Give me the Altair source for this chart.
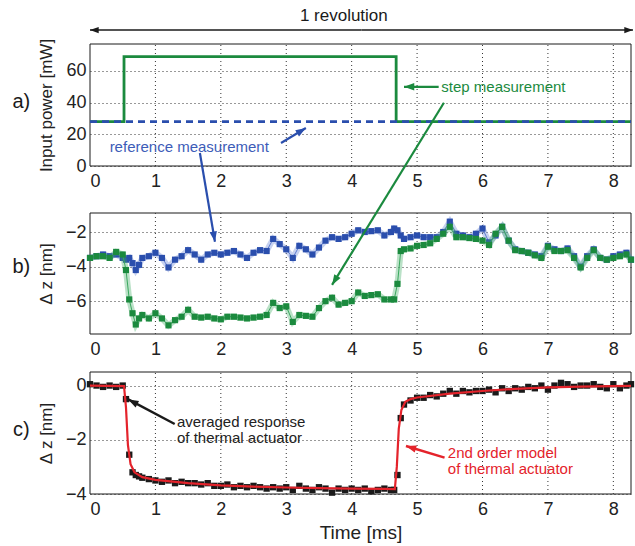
import math
import altair as alt
import pandas as pd

# ---------------- layout constants ----------------
XMAX = 8.27
W, H = 541, 450
A_DOM, A_RNG = [0, 77], [122, 0]
B_DOM, B_RNG = [-7.9, -0.9], [290, 169]
C_DOM, C_RNG = [-4, 0.5], [450, 328]

GREEN = "#1b8a3e"
GREEN_L = "#3aa85e"
BLUE = "#2a4ead"
BLUE_L = "#5d7bd0"
RED = "#e4232b"
BLACK = "#1a1a1a"
GRID = "#333333"

# ---------------- data ----------------
# a) input power
POWER_T = [0, 0.52, 0.52, 4.68, 4.68, 8.27]
POWER_STEP = [28, 28, 69, 69, 28, 28]
REF_T = [0, 8.27]
REF_POWER = [28, 28]

# b) measured displacement
T_B = [0.0, 0.1, 0.2, 0.3, 0.4, 0.5, 0.55, 0.6, 0.65, 0.7, 0.75, 0.8, 0.9, 1.0,
       1.1, 1.2, 1.3, 1.4, 1.5, 1.6, 1.7, 1.8, 1.9, 2.0, 2.1, 2.2, 2.3, 2.4, 2.5,
       2.6, 2.7, 2.8, 2.9, 3.0, 3.1, 3.2, 3.3, 3.4, 3.5, 3.6, 3.7, 3.8, 3.9, 4.0,
       4.1, 4.2, 4.3, 4.4, 4.5, 4.6, 4.65, 4.7, 4.75, 4.8, 4.9, 5.0, 5.1, 5.2,
       5.3, 5.4, 5.5, 5.6, 5.7, 5.8, 5.9, 6.0, 6.1, 6.2, 6.3, 6.4, 6.5, 6.6,
       6.7, 6.8, 6.9, 7.0, 7.1, 7.2, 7.3, 7.4, 7.5, 7.6, 7.7, 7.8, 7.9, 8.0,
       8.1, 8.2, 8.27]
REF_DZ = [-3.5, -3.4, -3.3, -3.4, -3.3, -3.5, -3.6, -3.5, -3.8, -4.2, -3.9, -3.5,
          -3.4, -3.2, -3.5, -4.05, -3.6, -3.4, -3.05, -3.3, -3.6, -3.3, -3.2,
          -3.3, -3.2, -3.1, -3.3, -3.5, -3.2, -3.05, -3.1, -2.4, -2.7, -3.0,
          -3.5, -2.8, -3.0, -3.3, -2.9, -2.5, -2.3, -2.4, -2.3, -2.1, -1.9,
          -2.0, -1.95, -1.9, -2.2, -2.0, -1.8, -1.9, -2.2, -2.4, -2.3, -2.2,
          -2.3, -2.3, -2.3, -2.0, -1.4, -2.1, -2.2, -2.3, -2.1, -1.8, -2.6,
          -2.2, -1.7, -2.5, -3.0, -3.1, -3.2, -3.3, -3.4, -2.8, -3.0, -3.1,
          -2.95, -3.4, -4.0, -3.4, -3.0, -3.5, -3.6, -3.4, -3.3, -3.2, -3.6]
STEP_DZ = [-3.5, -3.4, -3.4, -3.5, -3.15, -3.3, -4.2, -5.9, -6.7, -7.35, -7.0,
           -6.8, -7.0, -6.7, -7.0, -7.4, -7.1, -6.9, -6.5, -6.9, -6.95, -6.9,
           -7.0, -7.05, -6.9, -6.9, -6.95, -7.0, -6.95, -6.9, -6.8, -6.1, -6.4,
           -6.3, -7.2, -6.8, -6.85, -6.9, -6.4, -6.0, -5.8, -6.2, -6.1, -6.0,
           -5.5, -5.7, -5.65, -5.6, -5.9, -5.9, -5.9, -5.0, -3.1, -3.0, -2.95,
           -2.8, -2.75, -2.65, -2.4, -2.1, -1.7, -2.3, -2.3, -2.35, -2.4, -2.5,
           -2.75, -2.1, -1.7, -2.5, -3.05, -3.1, -3.2, -3.35, -3.5, -2.85, -3.1,
           -3.1, -3.05, -3.5, -4.05, -3.5, -3.05, -3.5, -3.6, -3.5, -3.4, -3.3,
           -3.6]

# c) averaged response and model
AVG_DZ = [0.05, 0.0, -0.05, 0.0, -0.05, 0.0, -0.5, -2.55, -3.2, -3.3, -3.35,
          -3.4, -3.45, -3.5, -3.55, -3.5, -3.6, -3.55, -3.6, -3.6, -3.65, -3.6,
          -3.7, -3.7, -3.65, -3.75, -3.7, -3.75, -3.7, -3.75, -3.8, -3.75, -3.8,
          -3.75, -3.85, -3.7, -3.8, -3.85, -3.75, -3.8, -3.95, -3.8, -3.85,
          -3.8, -3.85, -3.8, -3.9, -3.85, -3.8, -3.85, -3.85, -3.3, -1.2, -0.7,
          -0.55, -0.45, -0.45, -0.35, -0.4, -0.3, -0.2, -0.3, -0.2, -0.25,
          -0.2, -0.2, -0.15, -0.25, -0.1, -0.2, -0.1, -0.15, -0.05, -0.1, 0.0,
          -0.15, 0.0, 0.1, 0.05, -0.05, 0.0, 0.0, 0.05, -0.05, -0.1, 0.05,
          -0.1, 0.0, 0.05]
MODEL_T = [0, 0.52, 0.55, 0.58, 0.62, 0.68, 0.8, 1.0, 1.5, 2.0, 2.5, 3.0, 3.5,
           4.0, 4.5, 4.66, 4.69, 4.72, 4.76, 4.82, 4.9, 5.0, 5.5, 6.0, 6.5,
           7.0, 7.5, 8.0, 8.27]
MODEL_DZ = [0.0, -0.02, -0.8, -2.2, -2.9, -3.2, -3.38, -3.48, -3.6, -3.68,
            -3.73, -3.76, -3.78, -3.8, -3.81, -3.82, -3.0, -1.6, -0.9, -0.6,
            -0.5, -0.44, -0.3, -0.2, -0.12, -0.07, -0.04, -0.02, -0.01]

XTICKS = [0, 1, 2, 3, 4, 5, 6, 7, 8]
GRID_X = [1, 2, 3, 4, 5, 6, 7, 8]

# ---------------- helpers ----------------
KX = W / XMAX


def kyf(dom, rng):
    return (rng[0] - rng[1]) / (dom[1] - dom[0])


def angle(x0, y0, x1, y1, ky):
    dx = (x1 - x0) * KX
    dy = -(y1 - y0) * ky
    return math.degrees(math.atan2(dx, -dy)) % 360


HEAD = "M0,0 L-0.36,1 L0.36,1 Z"


def x_axis(offset, title=None):
    kw = dict(orient="bottom", values=XTICKS, format="d", grid=False,
              ticks=False, domain=False, labelFontSize=18, labelPadding=6,
              labelColor="#222", offset=offset)
    if title:
        kw.update(title=title, titleFontSize=19, titleFontWeight="normal",
                  titlePadding=5, titleColor="#222")
    else:
        kw.update(title=None)
    return alt.Axis(**kw)


def y_axis(values, title):
    return alt.Axis(orient="left", values=values, format="d", title=title,
                    grid=True, gridDash=[1, 3], gridColor=GRID, gridWidth=1,
                    ticks=False, domain=False, labelFontSize=18,
                    labelPadding=4, labelColor="#222", titleFontSize=17,
                    titleFontWeight="normal", titlePadding=10,
                    titleColor="#222")


def make_panel(dom, rng, xax, yax):
    xs = alt.Scale(domain=[0, XMAX], nice=False, zero=False)
    ys = alt.Scale(domain=dom, range=rng, nice=False, zero=False)

    def X(f="x"):
        return alt.X(f"{f}:Q", scale=xs, axis=xax)

    def Y(f="y"):
        return alt.Y(f"{f}:Q", scale=ys, axis=yax)
    return X, Y


def frame(X, Y, dom):
    d = pd.DataFrame({"x": [0], "x2": [XMAX], "y": [dom[0]], "y2": [dom[1]]})
    return alt.Chart(d).mark_rect(fillOpacity=0, stroke=BLACK,
                                  strokeWidth=1).encode(
        x=X(), x2="x2:Q", y=Y(), y2="y2:Q")


def xgrid(X, Y, dom):
    d = pd.DataFrame({"x": GRID_X, "y": [dom[0]] * len(GRID_X),
                      "y2": [dom[1]] * len(GRID_X)})
    return alt.Chart(d).mark_rule(strokeDash=[1, 3], color=GRID,
                                  strokeWidth=1).encode(
        x=X(), y=Y(), y2="y2:Q")


def arrow(X, Y, x0, y0, x1, y1, ky, color, width=2.2, size=420):
    shaft = alt.Chart(pd.DataFrame({"x": [x0, x1], "y": [y0, y1]})).mark_line(
        color=color, strokeWidth=width).encode(x=X(), y=Y())
    head = alt.Chart(pd.DataFrame({"x": [x1], "y": [y1],
                                   "a": [angle(x0, y0, x1, y1, ky)]})).mark_point(
        shape=HEAD, filled=True, opacity=1, color=color, size=size,
        strokeWidth=0).encode(x=X(), y=Y(), angle=alt.Angle("a:Q", scale=None))
    return [shaft, head]


def text(X, Y, rows, color, size=15, align="left"):
    d = pd.DataFrame(rows, columns=["x", "y", "t"])
    return alt.Chart(d).mark_text(align=align, baseline="middle",
                                  fontSize=size, color=color).encode(
        x=X(), y=Y(), text="t:N")


# ---------------- panel a ----------------
KA = kyf(A_DOM, A_RNG)
XA, YA = make_panel(A_DOM, A_RNG, x_axis(A_RNG[0] - H),
                    y_axis([0, 20, 40, 60], "Input power [mW]"))
step_df = pd.DataFrame({"x": POWER_T, "y": POWER_STEP,
                        "i": list(range(len(POWER_T)))})
ref_df = pd.DataFrame({"x": REF_T, "y": REF_POWER})
layers_a = [
    frame(XA, YA, A_DOM),
    xgrid(XA, YA, A_DOM),
    alt.Chart(step_df).mark_line(color=GREEN, strokeWidth=2.8).encode(
        x=XA(), y=YA(), order="i:Q"),
    alt.Chart(ref_df).mark_line(color=BLUE, strokeWidth=2.8,
                                strokeDash=[7, 5]).encode(x=XA(), y=YA()),
    text(XA, YA, [[5.37, 50, "step measurement"]], GREEN),
    text(XA, YA, [[0.3, 12, "reference measurement"]], "#3d5cb8"),
    text(XA, YA, [[3.88, 94.5, "1 revolution"]], BLACK, size=17,
         align="center"),
    text(XA, YA, [[-1.05, 40.5, "a)"]], BLACK, size=20, align="center"),
]
layers_a += arrow(XA, YA, 5.33, 50, 4.8, 50, KA, GREEN)
layers_a += arrow(XA, YA, 2.92, 14.5, 3.3, 24, KA, BLUE)
layers_a += arrow(XA, YA, 4.15, 85.8, 0.0, 85.8, KA, BLACK, width=1.6, size=300)
layers_a += arrow(XA, YA, 4.15, 85.8, 8.3, 85.8, KA, BLACK, width=1.6, size=300)
panel_a = alt.layer(*layers_a)

# ---------------- panel b ----------------
KB = kyf(B_DOM, B_RNG)
XB, YB = make_panel(B_DOM, B_RNG, x_axis(B_RNG[0] - H),
                    y_axis([-6, -4, -2], "Δ z [nm]"))
ref_b = pd.DataFrame({"x": T_B, "y": REF_DZ})
step_b = pd.DataFrame({"x": T_B, "y": STEP_DZ})


def series(d, dark, light):
    return [
        alt.Chart(d).mark_line(color=light, strokeWidth=6, opacity=0.35).encode(
            x=XB(), y=YB()),
        alt.Chart(d).mark_line(color=light, strokeWidth=1).encode(
            x=XB(), y=YB()),
        alt.Chart(d).mark_point(shape="square", filled=True, size=38,
                                color=dark, opacity=1).encode(x=XB(), y=YB()),
    ]


layers_b = [frame(XB, YB, B_DOM), xgrid(XB, YB, B_DOM)]
layers_b += series(ref_b, BLUE, BLUE_L)
layers_b += series(step_b, GREEN, GREEN_L)
layers_b.append(text(XB, YB, [[-1.05, -4.0, "b)"]], BLACK, size=20,
                     align="center"))
layers_b += arrow(XB, YB, 1.68, 2.57, 1.91, -2.56, KB, BLUE)
layers_b += arrow(XB, YB, 5.41, 5.48, 3.70, -5.06, KB, GREEN)
panel_b = alt.layer(*layers_b)

# ---------------- panel c ----------------
KC = kyf(C_DOM, C_RNG)
XC, YC = make_panel(C_DOM, C_RNG, x_axis(0, "Time [ms]"),
                    y_axis([-4, -2, 0], "Δ z [nm]"))
avg_c = pd.DataFrame({"x": T_B, "y": AVG_DZ})
model_c = pd.DataFrame({"x": MODEL_T, "y": MODEL_DZ})
layers_c = [
    frame(XC, YC, C_DOM),
    xgrid(XC, YC, C_DOM),
    alt.Chart(avg_c).mark_point(shape="square", filled=True, size=40,
                                color=BLACK, opacity=1).encode(x=XC(), y=YC()),
    alt.Chart(model_c).mark_line(color=RED, strokeWidth=2.2).encode(
        x=XC(), y=YC()),
    text(XC, YC, [[1.33, -1.36, "averaged response"],
                  [1.33, -1.95, "of thermal actuator"]], "#222"),
    text(XC, YC, [[5.47, -2.5, "2nd order model"],
                  [5.47, -3.09, "of thermal actuator"]], RED),
    text(XC, YC, [[-1.05, -1.64, "c)"]], BLACK, size=20, align="center"),
]
layers_c += arrow(XC, YC, 1.295, -1.42, 0.585, -0.51, KC, BLACK, width=2.4)
layers_c += arrow(XC, YC, 5.42, -2.66, 4.83, -2.23, KC, RED, width=2.4)
panel_c = alt.layer(*layers_c)

chart = (
    alt.layer(panel_a, panel_b, panel_c)
    .resolve_scale(x="independent", y="independent")
    .resolve_axis(x="independent", y="independent")
    .properties(width=W, height=H,
                autosize=alt.AutoSizeParams(type="none"),
                padding={"left": 90, "top": 44, "right": 4, "bottom": 52},
                background="white")
    .configure(font="Liberation Sans")
    .configure_view(stroke=None)
)

chart.save("out.html", embed_options={"renderer": "svg", "actions": False})
